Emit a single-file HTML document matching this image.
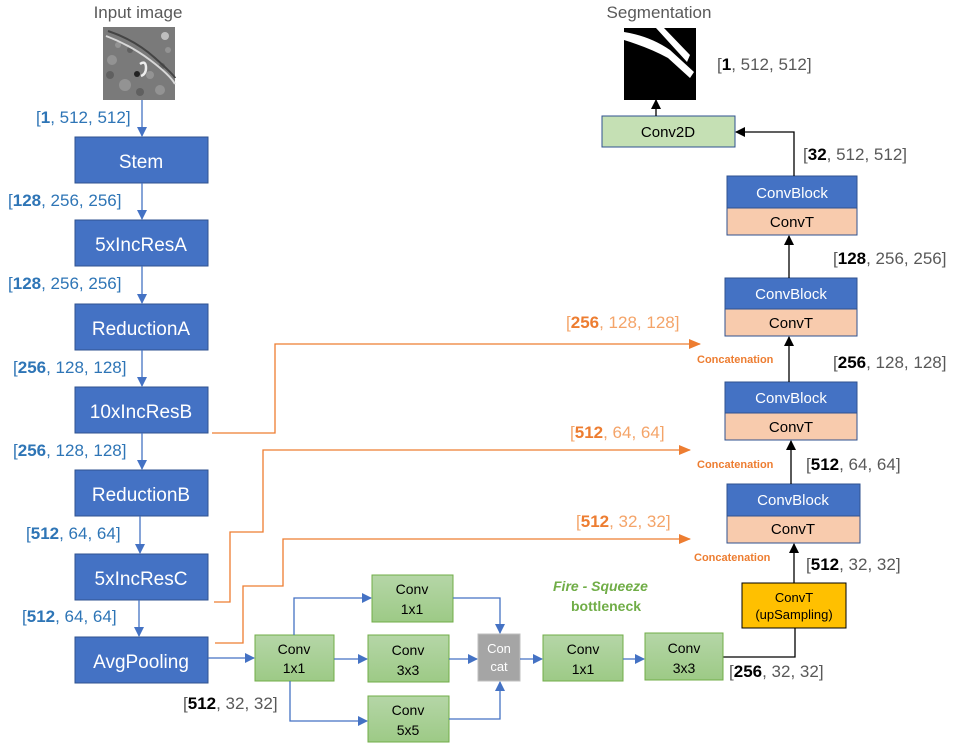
<!DOCTYPE html>
<html><head><meta charset="utf-8"><style>
html,body{margin:0;padding:0;background:#fff;}
svg{display:block;font-family:"Liberation Sans",Arial,sans-serif;}
</style></head><body>
<svg width="962" height="746" viewBox="0 0 962 746" xmlns="http://www.w3.org/2000/svg">
<defs>
<marker id="ab" markerWidth="10" markerHeight="10" refX="9" refY="5" orient="auto" markerUnits="userSpaceOnUse"><path d="M0,0 L10,5 L0,10 z" fill="#4472C4"/></marker>
<marker id="ak" markerWidth="10" markerHeight="10" refX="9" refY="5" orient="auto" markerUnits="userSpaceOnUse"><path d="M0,0 L10,5 L0,10 z" fill="#000"/></marker>
<marker id="ao" markerWidth="12" markerHeight="10" refX="11" refY="5" orient="auto" markerUnits="userSpaceOnUse"><path d="M0,0 L12,5 L0,10 z" fill="#ED7D31"/></marker>
<linearGradient id="gg" x1="0" y1="0" x2="0" y2="1"><stop offset="0" stop-color="#B5D6A7"/><stop offset="1" stop-color="#9DCA86"/></linearGradient>
</defs>

<text x="138" y="18" font-size="17" fill="#595959" text-anchor="middle">Input image</text>
<text x="659" y="18" font-size="17" fill="#595959" text-anchor="middle">Segmentation</text>

<rect x="103" y="27" width="72" height="73" fill="#7a7a7a"/>
<g fill="#9a9a9a" opacity="0.8">
<circle cx="112" cy="60" r="5"/><circle cx="125" cy="85" r="6"/><circle cx="160" cy="90" r="5"/><circle cx="118" cy="45" r="3"/><circle cx="150" cy="75" r="4"/><circle cx="168" cy="50" r="3"/>
</g>
<g fill="#5a5a5a" opacity="0.8">
<circle cx="110" cy="75" r="4"/><circle cx="140" cy="92" r="4"/><circle cx="130" cy="50" r="3"/><circle cx="162" cy="66" r="3"/>
</g>
<path d="M106,36 Q130,45 150,60 T175,84" stroke="#d8d8d8" stroke-width="2" fill="none"/>
<path d="M108,31 Q135,40 155,58 T175,78" stroke="#444" stroke-width="2" fill="none"/>
<path d="M140,64 q6,-4 6,4 q0,6 -5,8" stroke="#eee" stroke-width="2.5" fill="none"/>
<circle cx="137" cy="74" r="3" fill="#222"/>
<circle cx="165" cy="36" r="4" fill="#ddd" opacity="0.7"/>

<rect x="624" y="28" width="72" height="72" fill="#000"/>
<path d="M624,32 L624,40 Q650,48 668,58 L690,78 L694,72 L670,50 Q650,36 624,32 z" fill="#fff"/>
<path d="M656,28 L664,28 L690,55 L687,62 Z" fill="#fff"/>

<g fill="#4472C4" stroke="#2F528F" stroke-width="1">
<rect x="75" y="137" width="133" height="46"/>
<rect x="75" y="220" width="133" height="46"/>
<rect x="75" y="304" width="133" height="46"/>
<rect x="75" y="387" width="133" height="46"/>
<rect x="75" y="470" width="133" height="46"/>
<rect x="75" y="554" width="133" height="46"/>
<rect x="75" y="637" width="133" height="46"/>
</g>
<g fill="#fff" font-size="19" text-anchor="middle">
<text x="141" y="168">Stem</text>
<text x="141" y="251">5xIncResA</text>
<text x="141" y="335">ReductionA</text>
<text x="141" y="418">10xIncResB</text>
<text x="141" y="501">ReductionB</text>
<text x="141" y="585">5xIncResC</text>
<text x="141" y="668">AvgPooling</text>
</g>
<g stroke="#4472C4" stroke-width="1.3" fill="none" marker-end="url(#ab)">
<line x1="142" y1="100" x2="142" y2="136"/>
<line x1="142" y1="183" x2="142" y2="219"/>
<line x1="142" y1="266" x2="142" y2="303"/>
<line x1="142" y1="350" x2="142" y2="386"/>
<line x1="142" y1="433" x2="142" y2="469"/>
<line x1="140" y1="516" x2="140" y2="553"/>
<line x1="139" y1="600" x2="139" y2="636"/>
</g>
<g font-size="17" fill="#2E75B6">
<text x="36" y="123">[<tspan font-weight="bold">1</tspan>, 512, 512]</text>
<text x="8" y="206">[<tspan font-weight="bold">128</tspan>, 256, 256]</text>
<text x="8" y="289">[<tspan font-weight="bold">128</tspan>, 256, 256]</text>
<text x="13" y="373">[<tspan font-weight="bold">256</tspan>, 128, 128]</text>
<text x="13" y="456">[<tspan font-weight="bold">256</tspan>, 128, 128]</text>
<text x="26" y="539">[<tspan font-weight="bold">512</tspan>, 64, 64]</text>
<text x="22" y="622">[<tspan font-weight="bold">512</tspan>, 64, 64]</text>
</g>

<g stroke="#ED7D31" stroke-width="1.3" fill="none" marker-end="url(#ao)">
<polyline points="212,433 275,433 275,344 700,344"/>
<polyline points="214,602 230,602 230,532 263,532 263,450 690,450"/>
<polyline points="215,643 243,643 243,586 283,586 283,539 690,539"/>
</g>
<g font-size="17" fill="#F4A469">
<text x="566" y="328">[<tspan font-weight="bold" fill="#ED7D31">256</tspan>, 128, 128]</text>
<text x="570" y="438">[<tspan font-weight="bold" fill="#ED7D31">512</tspan>, 64, 64]</text>
<text x="576" y="527">[<tspan font-weight="bold" fill="#ED7D31">512</tspan>, 32, 32]</text>
</g>
<g font-size="11" font-weight="bold" fill="#ED7D31">
<text x="697" y="363">Concatenation</text>
<text x="697" y="468">Concatenation</text>
<text x="694" y="561">Concatenation</text>
</g>

<g stroke="#2F528F" stroke-width="1">
<rect x="727" y="176" width="130" height="32" fill="#4472C4"/>
<rect x="727" y="208" width="130" height="27" fill="#F8CBAD"/>
<rect x="725" y="278" width="132" height="31" fill="#4472C4"/>
<rect x="725" y="309" width="132" height="27" fill="#F8CBAD"/>
<rect x="725" y="382" width="132" height="31" fill="#4472C4"/>
<rect x="725" y="413" width="132" height="27" fill="#F8CBAD"/>
<rect x="727" y="484" width="133" height="32" fill="#4472C4"/>
<rect x="727" y="516" width="133" height="27" fill="#F8CBAD"/>
<rect x="602" y="116" width="133" height="31" fill="#C5E0B4"/>
</g>
<rect x="742" y="583" width="104" height="45" fill="#FFC000" stroke="#000" stroke-width="1"/>
<g font-size="15" text-anchor="middle">
<text x="792" y="198" fill="#fff">ConvBlock</text>
<text x="792" y="227" fill="#000">ConvT</text>
<text x="791" y="299" fill="#fff">ConvBlock</text>
<text x="791" y="328" fill="#000">ConvT</text>
<text x="791" y="403" fill="#fff">ConvBlock</text>
<text x="791" y="432" fill="#000">ConvT</text>
<text x="793" y="505" fill="#fff">ConvBlock</text>
<text x="793" y="534" fill="#000">ConvT</text>
<text x="668" y="137" fill="#000">Conv2D</text>
<text x="794" y="602" font-size="13" fill="#000">ConvT</text>
<text x="794" y="619" font-size="13" fill="#000">(upSampling)</text>
</g>
<g stroke="#000" stroke-width="1.3" fill="none" marker-end="url(#ak)">
<line x1="656" y1="116" x2="656" y2="100"/>
<polyline points="794,176 794,132 736,132"/>
<line x1="789" y1="278" x2="789" y2="236"/>
<line x1="789" y1="382" x2="789" y2="337"/>
<line x1="791" y1="484" x2="791" y2="441"/>
<line x1="794" y1="583" x2="794" y2="544"/>
</g>
<polyline points="723,657 795,657 795,628" stroke="#000" stroke-width="1.3" fill="none"/>
<g font-size="17" fill="#595959">
<text x="717" y="70">[<tspan font-weight="bold" fill="#000">1</tspan>, 512, 512]</text>
<text x="803" y="160">[<tspan font-weight="bold" fill="#000">32</tspan>, 512, 512]</text>
<text x="833" y="264">[<tspan font-weight="bold" fill="#000">128</tspan>, 256, 256]</text>
<text x="833" y="368">[<tspan font-weight="bold" fill="#000">256</tspan>, 128, 128]</text>
<text x="806" y="470">[<tspan font-weight="bold" fill="#000">512</tspan>, 64, 64]</text>
<text x="806" y="570">[<tspan font-weight="bold" fill="#000">512</tspan>, 32, 32]</text>
<text x="729" y="677">[<tspan font-weight="bold" fill="#000">256</tspan>, 32, 32]</text>
<text x="183" y="709">[<tspan font-weight="bold" fill="#000">512</tspan>, 32, 32]</text>
</g>

<g fill="url(#gg)" stroke="#70AD47" stroke-width="1">
<rect x="255" y="635" width="79" height="46"/>
<rect x="372" y="575" width="81" height="47"/>
<rect x="368" y="635" width="81" height="47"/>
<rect x="368" y="696" width="81" height="46"/>
<rect x="543" y="635" width="80" height="46"/>
<rect x="645" y="633" width="78" height="47"/>
</g>
<rect x="478" y="634" width="42" height="47" fill="#A5A5A5" stroke="#BFBFBF" stroke-width="1"/>
<g font-size="14" text-anchor="middle" fill="#000">
<text x="294" y="654">Conv</text><text x="294" y="673">1x1</text>
<text x="412" y="594">Conv</text><text x="412" y="614">1x1</text>
<text x="408" y="655">Conv</text><text x="408" y="675">3x3</text>
<text x="408" y="715">Conv</text><text x="408" y="735">5x5</text>
<text x="583" y="654">Conv</text><text x="583" y="674">1x1</text>
<text x="684" y="653">Conv</text><text x="684" y="673">3x3</text>
<text x="499" y="653" fill="#fff" font-size="13">Con</text><text x="499" y="671" fill="#fff" font-size="13">cat</text>
</g>
<g stroke="#4472C4" stroke-width="1.3" fill="none" marker-end="url(#ab)">
<line x1="208" y1="658" x2="254" y2="658"/>
<polyline points="294,635 294,598 371,598"/>
<line x1="334" y1="659" x2="367" y2="659"/>
<polyline points="290,681 290,721 367,721"/>
<polyline points="453,598 500,598 500,633"/>
<line x1="449" y1="659" x2="477" y2="659"/>
<polyline points="449,719 500,719 500,682"/>
<line x1="520" y1="659" x2="542" y2="659"/>
<line x1="623" y1="659" x2="644" y2="659"/>
</g>
<g font-size="14" font-weight="bold" fill="#70AD47">
<text x="553" y="591" font-style="italic">Fire - Squeeze</text>
<text x="571" y="611">bottleneck</text>
</g>
</svg>
</body></html>
